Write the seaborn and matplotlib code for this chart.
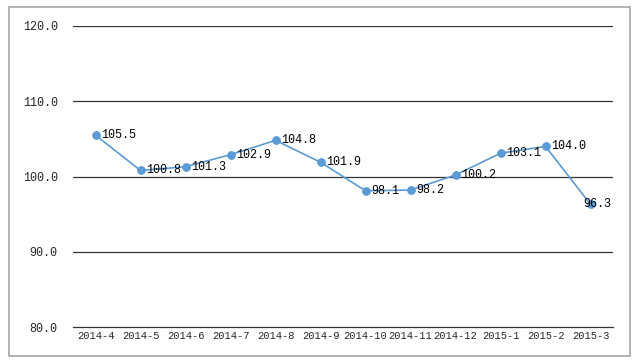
import matplotlib
matplotlib.use("Agg")
import matplotlib.pyplot as plt
import matplotlib.patches as patches
import numpy as np
import pandas as pd
import seaborn as sns

months = ["2014-4", "2014-5", "2014-6", "2014-7", "2014-8", "2014-9", "2014-10",
          "2014-11", "2014-12", "2015-1", "2015-2", "2015-3"]
values = [105.5, 100.8, 101.3, 102.9, 104.8, 101.9, 98.1, 98.2, 100.2, 103.1, 104.0, 96.3]
y_ticks = [80, 90, 100, 110, 120]

sns.set_style("white")
plt.rcParams["font.family"] = ["Liberation Mono", "DejaVu Sans Mono"]

df = pd.DataFrame({"pos": np.arange(len(months)), "month": months, "value": values})

fig = plt.figure(figsize=(6.42, 3.61), dpi=100)
ax = fig.add_axes([73 / 642, 1 - 327 / 361, 540 / 642, 301 / 361])

# outer frame
fig.patches.append(patches.Rectangle((9 / 642, 1 - 356 / 361), 621 / 642, 349 / 361,
                                     transform=fig.transFigure, fill=False,
                                     edgecolor="#a6a6a6", linewidth=1.2))

for y in y_ticks[1:]:
    ax.axhline(y, color="#333333", linewidth=0.9, zorder=1)

line_color = "#5b9bd5"
sns.lineplot(data=df, x="pos", y="value", ax=ax, color=line_color, linewidth=1.2,
             marker="o", markersize=5.5, markeredgecolor=line_color, zorder=3)

# value labels to the right of each point, the last one pulled back inside the frame
for i, row in df.iterrows():
    dx = 4 if i < len(df) - 1 else -5
    ax.annotate(f"{row['value']:.1f}", (row["pos"], row["value"]), xytext=(dx, 0),
                textcoords="offset points", va="center", ha="left", fontsize=8.5,
                color="#000000", zorder=4)

ax.set_xlim(-0.5, len(months) - 0.5)
ax.set_ylim(80, 120)
ax.set_yticks(y_ticks)
ax.set_yticklabels([f"{v:.1f}" for v in y_ticks], fontsize=8.5)
ax.tick_params(axis="y", length=0, pad=11)

ax.set_xticks(np.arange(-0.5, len(months)))
ax.set_xticklabels([])
ax.set_xticks(np.arange(len(months)), minor=True)
ax.set_xticklabels(months, minor=True, fontsize=7.5)
ax.tick_params(axis="x", which="major", length=3, direction="out", color="#333333")
ax.tick_params(axis="x", which="minor", length=0, pad=3)

for side in ["left", "right", "top"]:
    ax.spines[side].set_visible(False)
ax.spines["bottom"].set_color("#333333")
ax.spines["bottom"].set_linewidth(0.9)
ax.set_xlabel("")
ax.set_ylabel("")

fig.savefig("out.png", dpi=100)
plt.close(fig)
